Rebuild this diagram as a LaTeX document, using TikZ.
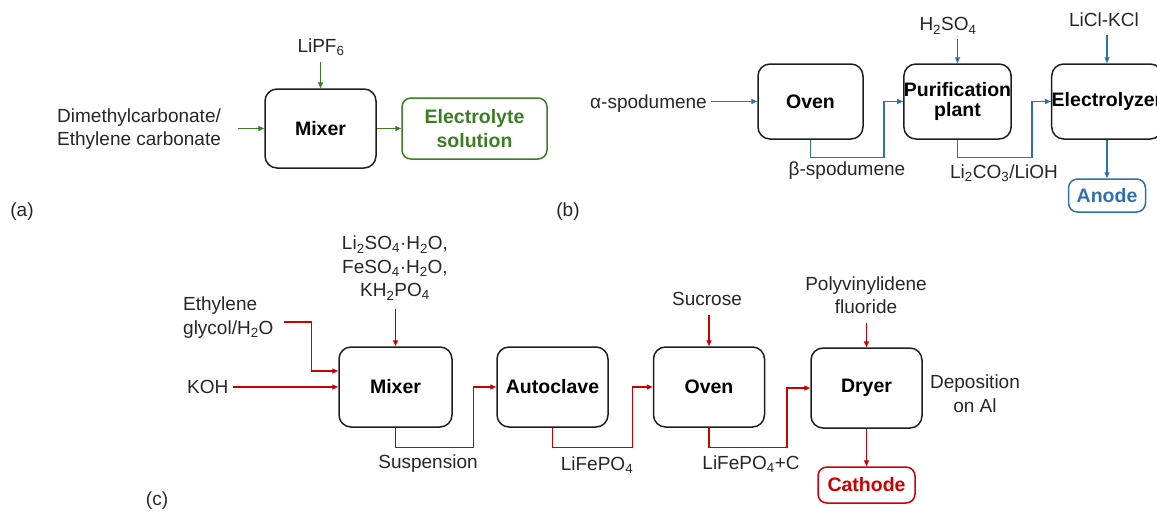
\documentclass[tikz,border=0pt]{standalone}
\usepackage{fontspec}
\setmainfont{Liberation Sans}
\usetikzlibrary{arrows.meta}
\definecolor{gA}{RGB}{59,125,35}
\definecolor{bB}{RGB}{46,112,174}
\definecolor{rC}{RGB}{204,0,0}
\definecolor{boxc}{RGB}{30,30,30}
\definecolor{txt}{RGB}{38,38,38}
\begin{document}
\begin{tikzpicture}[x=1pt,y=-1pt,
  proc/.style={draw=boxc, line width=1.5pt, rounded corners=12pt, minimum width=111pt, minimum height=80pt, inner sep=0pt, align=center, text=black, font=\bfseries\fontsize{19.5}{23}\selectfont},
  prod/.style={line width=1.5pt, rounded corners=9pt, inner sep=0pt, align=center, font=\bfseries\fontsize{19.5}{24}\selectfont},
  lbl/.style={inner sep=0pt, text=txt, font=\fontsize{19}{23.5}\selectfont},
  arr/.style={line width=1.4pt, -{Triangle[length=6pt,width=5pt]}},
]
\useasboundingbox (0,0) rectangle (1157,514);

% ---------------- (a)
\node[proc, minimum width=111pt, minimum height=79pt] (mixA) at (320.5,128.5) {Mixer};
\node[prod, draw=gA, text=gA, minimum width=145pt, minimum height=61pt] (elyt) at (474.5,128.5) {Electrolyte\\solution};
\node[lbl, anchor=west, align=left] (dmc) at (57,129) {Dimethylcarbonate/\\Ethylene carbonate};
\node[lbl] (lipf) at (321,47) {LiPF\textsubscript{6}};
\node[lbl] (la) at (22,212) {(a)};
\coordinate (dmcE) at (238,128.5);
\coordinate (lipfS) at (320.5,62);
\draw[arr, gA] (dmcE) -- (mixA.west);
\draw[arr, gA] (lipfS) -- (mixA.north);
\draw[arr, gA] (mixA.east) -- (elyt.west);

% ---------------- (b)
\node[proc, minimum width=105pt, minimum height=75pt] (ovenB) at (810.5,101.5) {Oven};
\node[proc, minimum width=105pt, minimum height=75pt] (purif) at (957.5,101.5) {Purification\\[-3pt]plant};
\node[proc, minimum width=106pt, minimum height=75pt] (elec) at (1107,101.5) {Electrolyzer};
\node[prod, draw=bB, text=bB, minimum width=77pt, minimum height=33pt] (anode) at (1107,195.5) {Anode};
\node[lbl, anchor=west] (aspod) at (590,104) {α-spodumene};
\node[lbl] (bspod) at (847,171) {β-spodumene};
\node[lbl] (lico) at (1004,173) {Li\textsubscript{2}CO\textsubscript{3}/LiOH};
\node[lbl] (hso) at (948,26) {H\textsubscript{2}SO\textsubscript{4}};
\node[lbl] (licl) at (1104,20) {LiCl-KCl};
\node[lbl] (lb) at (568,212) {(b)};
\coordinate (aspodE) at (711,101.5);
\coordinate (hsoS) at (957.5,39);
\coordinate (liclS) at (1107,35);
\draw[arr, bB] (aspodE) -- (ovenB.west);
\draw[arr, bB] (hsoS) -- (purif.north);
\draw[arr, bB] (liclS) -- (elec.north);
\draw[arr, bB] (ovenB.south) |- ++(73.5,18) |- (purif.west);
\draw[arr, bB] (purif.south) |- ++(74.5,18) |- (elec.west);
\draw[arr, bB] (elec.south) -- (anode.north);

% ---------------- (c)
\node[proc, minimum width=113pt] (mixC) at (395.5,387) {Mixer};
\node[proc] (auto) at (552.5,387) {Autoclave};
\node[proc] (ovenC) at (709,387) {Oven};
\node[proc] (dryer) at (866.5,388) {Dryer};
\node[prod, draw=rC, text=rC, minimum width=97pt, minimum height=36pt] (cath) at (866.5,485) {Cathode};
\node[lbl, align=center] (salts) at (395,268) {Li\textsubscript{2}SO\textsubscript{4}·H\textsubscript{2}O,\\FeSO\textsubscript{4}·H\textsubscript{2}O,\\KH\textsubscript{2}PO\textsubscript{4}};
\node[lbl, anchor=west, align=left] (eg) at (183,317.5) {Ethylene\\glycol/H\textsubscript{2}O};
\node[lbl, anchor=west] (koh) at (187,387) {KOH};
\node[lbl] (susp) at (428,464) {Suspension};
\node[lbl] (lfp) at (597,465) {LiFePO\textsubscript{4}};
\node[lbl] (lfpc) at (751,464) {LiFePO\textsubscript{4}+C};
\node[lbl] (sucr) at (707,299) {Sucrose};
\node[lbl, align=center] (pvdf) at (866,295) {Polyvinylidene\\fluoride};
\node[lbl, align=center] (depo) at (975,393.5) {Deposition\\on Al};
\node[lbl] (lc) at (157,501) {(c)};
\coordinate (saltsS) at (395.5,309);
\coordinate (egS) at (284,322);
\coordinate (kohS) at (233,387);
\coordinate (sucrS) at (709,315);
\coordinate (pvdfS) at (866.5,323);
\draw[arr, rC] (saltsS) -- (mixC.north);
\draw[arr, rC] (egS) -| ([xshift=-27pt,yshift=16pt]mixC.west) -- ([yshift=16pt]mixC.west);
\draw[arr, rC] (kohS) -- (mixC.west);
\draw[arr, rC] (mixC.south) |- ++(78,20) |- (auto.west);
\draw[arr, rC] (auto.south) |- ++(80,20) |- (ovenC.west);
\draw[arr, rC] (sucrS) -- (ovenC.north);
\draw[arr, rC] (ovenC.south) |- ++(78,20) |- (dryer.west);
\draw[arr, rC] (pvdfS) -- (dryer.north);
\draw[arr, rC] (dryer.south) -- (cath.north);
\end{tikzpicture}
\end{document}
